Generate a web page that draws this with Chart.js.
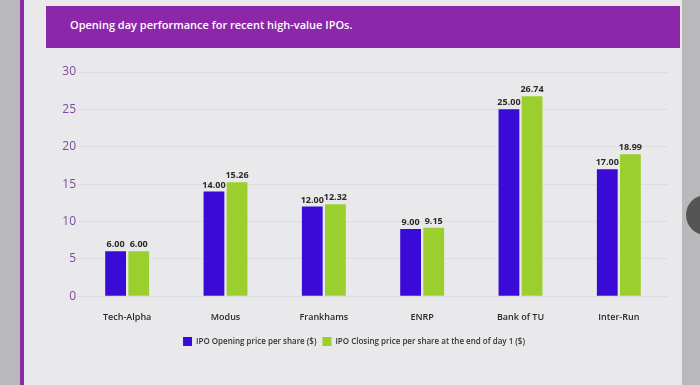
<!DOCTYPE html>
<html><head><meta charset="utf-8">
<script src="https://cdn.jsdelivr.net/npm/chart.js@4"></script>
<style>
html,body{margin:0;padding:0;width:700px;height:385px;overflow:hidden;background:#b9b9bb;font-family:"Open Sans",sans-serif;}
#panel{position:absolute;left:20px;top:0;width:662px;height:385px;background:#e9e9eb;border-left:4px solid #8a2aa6;box-sizing:border-box;}
#header{position:absolute;left:46px;top:6px;width:634px;height:42px;background:#8b27a8;color:#fff;font-size:11px;font-weight:600;box-sizing:border-box;padding:11px 0 0 24px;}
#wrap{position:absolute;left:40px;top:55px;width:640px;height:330px;}
#knob{position:absolute;left:686px;top:195px;width:40px;height:40px;border-radius:50%;background:#555;}
</style></head>
<body>
<div id="panel"></div>
<div id="header">Opening day performance for recent high-value IPOs.</div>
<div id="knob"></div>
<div id="wrap"><canvas id="c" width="640" height="330"></canvas></div>
<script>
const categories = ["Tech-Alpha","Modus","Frankhams","ENRP","Bank of TU","Inter-Run"];
const openingPrice = [6.00,14.00,12.00,9.00,25.00,17.00];
const closingPrice = [6.00,15.26,12.32,9.15,26.74,18.99];
const seriesNames = ["IPO Opening price per share ($)","IPO Closing price per share at the end of day 1 ($)"];
const yTicks = [0,5,10,15,20,25,30];

const valueLabels = {
  id:'valueLabels',
  afterDatasetsDraw(chart){
    const ctx = chart.ctx;
    ctx.save();
    ctx.font = 'bold 9px "Open Sans", sans-serif';
    ctx.fillStyle = '#2a2a2a';
    ctx.textAlign = 'center';
    ctx.textBaseline = 'bottom';
    chart.data.datasets.forEach((ds,i)=>{
      chart.getDatasetMeta(i).data.forEach((bar,j)=>{
        ctx.fillText(ds.data[j].toFixed(2), bar.x, bar.y-2);
      });
    });
    ctx.restore();
  }
};

new Chart(document.getElementById('c'),{
  type:'bar',
  data:{
    labels:categories,
    datasets:[
      {label:seriesNames[0],data:openingPrice,backgroundColor:'#3a0ad6',categoryPercentage:0.47,barPercentage:0.9},
      {label:seriesNames[1],data:closingPrice,backgroundColor:'#9bcf2e',categoryPercentage:0.47,barPercentage:0.9}
    ]
  },
  options:{
    responsive:false,
    animation:false,
    layout:{padding:{top:17,right:12,bottom:29,left:0}},
    plugins:{
      title:{display:false},
      tooltip:{enabled:false},
      legend:{
        position:'bottom',
        labels:{
          boxWidth:9,boxHeight:9,padding:6,
          color:'#333',
          font:{family:'"Open Sans", sans-serif',size:8,weight:'600'}
        }
      }
    },
    scales:{
      x:{
        grid:{display:false},
        border:{display:false},
        ticks:{color:'#2a2a2a',padding:8,font:{family:'"Open Sans", sans-serif',size:9,weight:'600'}}
      },
      y:{
        min:0,max:30,
        afterFit(s){s.width=38;},
        afterBuildTicks(s){s.ticks=yTicks.map(v=>({value:v}));},
        grid:{color:'rgba(0,0,0,0.05)',drawTicks:false},
        border:{display:false},
        ticks:{color:'#7a4a9c',padding:2,font:{family:'"Open Sans", sans-serif',size:12}}
      }
    }
  },
  plugins:[valueLabels]
});
</script>
</body></html>
